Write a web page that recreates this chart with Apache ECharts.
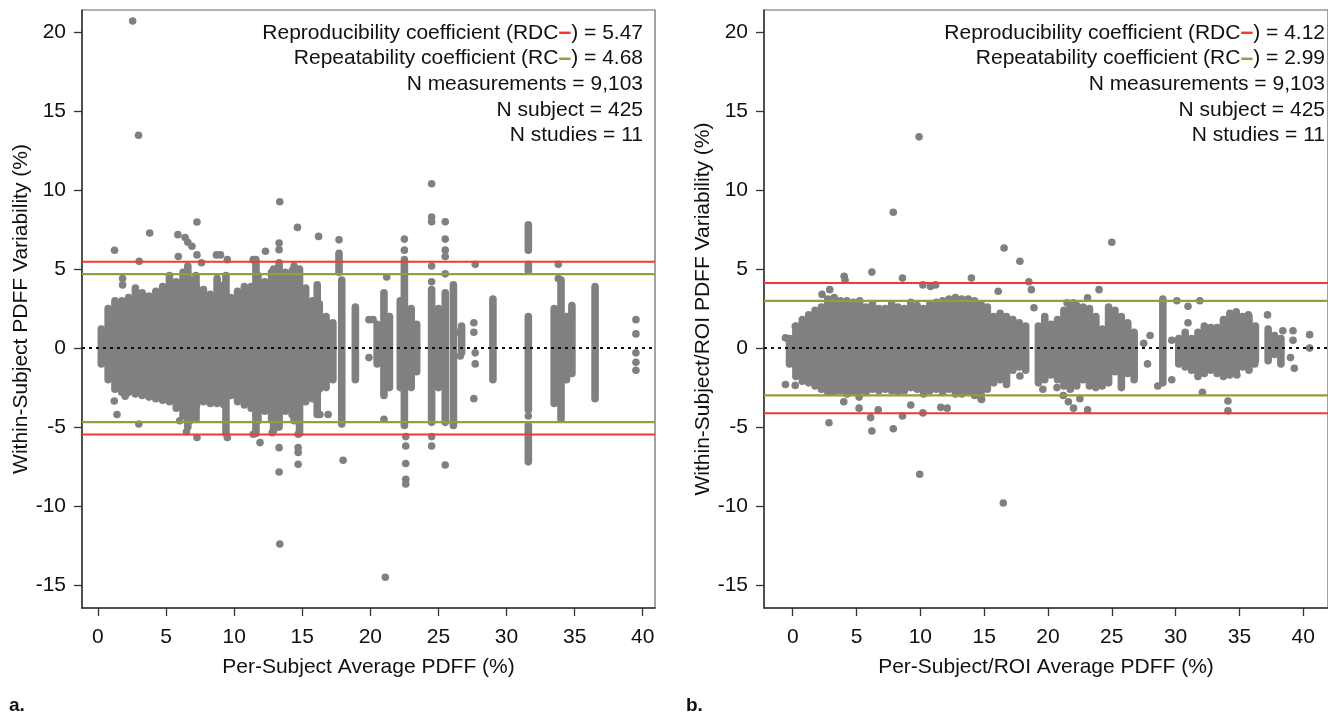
<!DOCTYPE html>
<html><head><meta charset="utf-8">
<script src="https://cdn.jsdelivr.net/npm/echarts@6/dist/echarts.min.js"></script>
<style>html,body{margin:0;padding:0;background:#fff}#c{width:1328px;height:715px}</style>
</head><body><div id="c"></div>
<script>
// ---------- tick labels ----------
const xTicks = [0, 5, 10, 15, 20, 25, 30, 35, 40];
const yTicks = [-15, -10, -5, 0, 5, 10, 15, 20];

// ---------- coefficients & counts ----------
const statsA = { rdc: '5.47', rc: '4.68', nMeas: '9,103', nSubj: '425', nStud: '11' };
const statsB = { rdc: '4.12', rc: '2.99', nMeas: '9,103', nSubj: '425', nStud: '11' };
const limitsA = [5.47, 4.68];
const limitsB = [4.12, 2.99];

// ---------- panel a : dense point columns (x, low y, high y) ----------
const aColX  = [0.25,0.75,1.25,1.75,2.25,2.75,3.25,3.75,4.25,4.75,5.25,5.75,6.25,6.75,7.25,7.75,8.25,8.75,9.25,9.75,10.25,10.75,11.25,11.75,12.25,12.75,13.25,13.75,14.25,14.75,15.25,15.75,16.25,16.75,17.25,
                6.6,7.2,9.4,11.6,12.9,13.3,14.4,14.8,16.1,17.9,17.7,18.9,20.5,21.0,21.4,22.2,22.5,23.0,23.4,24.5,25.0,25.5,26.1,26.7,29.0,31.6,31.6,31.6,31.6,33.5,34.0,34.4,34.8,36.5];
const aColLo = [-1.0,-2.0,-2.6,-2.8,-2.8,-2.9,-3.0,-3.1,-3.2,-3.3,-3.4,-3.8,-4.3,-4.6,-3.6,-3.4,-3.5,-3.5,-3.6,-3.0,-3.4,-3.6,-3.8,-4.6,-4.0,-4.5,-4.7,-4.0,-4.2,-3.8,-3.4,-3.2,-2.6,-2.5,-2.0,
                -5.0,-4.5,-5.4,-5.4,-5.2,-5.0,-4.6,-5.4,-4.2,-4.8,4.8,-2.0,-1.0,-3.0,-2.5,-2.5,-4.9,-2.5,-1.5,-4.7,-2.5,-4.7,-4.9,-0.3,-2.0,-7.2,-3.9,4.9,6.2,-3.5,-4.5,-2.0,-1.6,-3.2];
const aColHi = [1.2,2.5,3.0,3.0,3.2,3.8,3.5,3.3,3.6,3.9,4.6,4.2,4.8,4.3,3.8,3.7,3.4,4.4,4.0,3.2,3.6,3.9,3.9,4.6,4.2,4.8,5.0,4.8,4.9,4.6,3.8,3.0,2.8,2.0,1.6,
                5.2,4.6,4.6,5.6,5.0,5.4,5.2,5.0,4.0,4.3,6.0,2.6,1.5,3.5,2.0,3.0,5.6,2.5,1.5,3.7,2.5,3.5,4.0,1.4,3.1,-4.9,2.0,5.3,7.8,2.5,4.3,2.0,2.7,3.9];

// ---------- panel a : individual points ----------
const aPtX = [2.55,2.98,13.35,7.27,3.8,5.87,6.4,14.65,16.2,17.7,1.22,3.03,1.81,1.81,6.9,6.6,7.27,5.9,8.7,9.0,9.5,7.6,11.4,12.3,13.3,13.3,
              24.5,24.5,24.5,25.5,25.5,25.5,25.5,25.5,24.5,24.5,22.5,22.5,27.7,33.8,21.2,19.9,19.9,20.2,27.6,27.6,27.7,27.7,27.6,39.5,39.5,39.5,39.5,39.5,26.5,26.6,
              1.4,1.2,3.0,2.0,6.0,6.5,7.27,9.5,11.4,11.9,12.8,13.3,13.3,14.7,14.7,14.7,14.7,18.0,16.3,16.9,13.35,21.1,21.0,22.6,22.6,22.6,22.6,22.6,24.5,24.5,25.5,31.6,33.8];
const aPtY = [20.7,13.47,9.26,7.98,7.29,7.18,7.0,7.64,7.07,6.86,6.19,5.49,4.4,4.0,6.45,6.7,5.9,5.8,5.9,5.9,5.6,5.4,5.6,6.13,6.65,6.23,
              10.4,8.3,8.0,8.0,6.9,6.2,5.8,4.7,5.2,4.2,6.9,6.2,5.3,5.3,4.5,1.8,-0.6,1.8,1.6,1.0,-0.3,-1.0,-3.2,1.8,0.9,-0.3,-0.9,-1.4,1.0,-0.5,
              -4.2,-3.35,-4.8,-3.05,-4.6,-5.3,-5.66,-5.66,-5.45,-5.98,-5.35,-6.3,-7.84,-6.3,-6.6,-7.35,-5.45,-7.1,-4.2,-4.2,-12.4,-14.5,-4.5,-5.6,-6.2,-7.3,-8.3,-8.6,-5.6,-6.2,-7.4,-4.3,4.4];

// ---------- panel b : dense point columns (x, low y, high y) ----------
const bColX  = [-0.25,0.25,0.75,1.25,1.75,2.25,2.75,3.25,3.75,4.25,4.75,5.25,5.75,6.25,6.75,7.25,7.75,8.25,8.75,9.25,9.75,10.25,10.75,11.25,11.75,12.25,12.75,13.25,13.75,14.25,14.75,15.25,15.75,16.25,16.75,17.25,17.75,18.25,
                19.25,19.75,20.25,20.75,21.25,21.75,22.25,22.75,23.25,23.75,24.25,24.75,25.25,25.75,26.25,26.75,29.0,
                30.25,30.75,31.25,31.75,32.25,32.75,33.25,33.75,34.25,34.75,35.25,35.75,36.25,37.25,37.75,38.25];
const bColLo = [-1.0,-1.8,-2.1,-2.2,-2.4,-2.6,-2.8,-2.8,-2.7,-2.9,-2.8,-2.7,-2.8,-2.6,-2.7,-2.6,-2.7,-2.8,-2.7,-2.5,-2.6,-2.9,-2.7,-2.6,-2.8,-2.6,-2.9,-2.9,-2.8,-3.0,-3.2,-2.6,-2.2,-2.0,-2.3,-1.4,-1.2,-1.4,
                -2.2,-2.0,-1.7,-2.0,-2.4,-2.6,-2.4,-2.0,-2.4,-2.5,-2.4,-2.2,-1.5,-2.5,-1.6,-2.0,-2.2,
                -1.0,-1.2,-1.4,-1.8,-1.6,-1.4,-1.6,-1.8,-1.7,-1.6,-1.2,-1.4,-0.8,-0.8,-0.4,-1.0];
const bColHi = [0.6,1.4,1.8,2.1,2.4,2.6,3.1,3.2,3.0,3.0,2.9,3.0,2.6,2.8,2.5,2.5,2.8,2.6,2.5,2.9,2.7,2.5,2.8,2.9,3.0,3.1,3.2,3.1,3.1,3.0,2.8,2.6,2.0,2.2,2.0,1.8,1.6,1.4,
                1.4,2.0,1.5,1.8,2.4,2.6,2.7,2.6,2.5,2.0,1.2,2.6,2.4,2.0,1.6,1.0,3.1,
                0.6,1.0,0.6,1.0,1.4,1.3,1.3,1.8,2.2,2.3,2.0,2.0,1.4,1.2,0.8,0.6];

// ---------- panel b : individual points ----------
const bPtX = [9.9,7.88,16.56,17.8,18.5,18.7,6.2,4.03,4.1,8.6,14.0,10.2,10.8,11.2,2.9,2.3,16.1,0.2,-0.57,-0.57,0.2,2.84,4.0,5.2,5.2,6.1,6.2,6.7,7.88,8.6,9.25,10.2,11.6,12.1,14.8,9.95,16.5,
              18.9,17.8,19.6,25.0,24.0,23.1,21.5,22.0,21.2,21.6,22.0,22.5,23.1,20.7,30.1,30.97,30.97,31.9,29.7,29.7,28.6,34.1,34.1,32.1,37.2,35.7,34.8,36.2,38.4,39.2,39.2,39.0,39.3,40.5,40.5,27.5,27.8,28.0];
const bPtY = [13.37,8.6,6.34,5.5,4.2,3.7,4.81,4.54,4.3,4.43,4.43,4.0,3.9,4.0,3.7,3.4,3.6,1.38,0.65,-2.3,-2.36,-4.72,-3.4,-3.1,-3.8,-4.4,-5.25,-3.9,-5.1,-4.3,-3.6,-4.1,-3.75,-3.8,-3.25,-7.98,-9.8,
              2.55,-1.77,-2.6,6.7,3.7,3.18,2.86,2.86,-3.0,-3.4,-3.8,-3.2,-3.9,-2.5,3.0,2.65,1.6,3.0,0.5,-2.0,-2.4,-3.35,-3.97,-2.8,2.1,2.1,-1.7,-1.0,1.1,1.1,0.5,-0.6,-1.28,0.85,0.0,0.3,-1.0,0.8];

// ---------- styling ----------
const GRAY = '#808080', RED = '#f03a32', OLIVE = '#9a9a3e', FONT = '"Liberation Sans", Arial, Helvetica, sans-serif';
const PT = 7.6, FS = 21;

function zip2(a, b) { return a.map((v, i) => [v, b[i]]); }
function zip3(a, b, c) { return a.map((v, i) => [v, b[i], c[i]]); }

function capsule(params, api) {
  const x = api.value(0), lo = api.value(1), hi = api.value(2);
  const p1 = api.coord([x, hi]), p2 = api.coord([x, lo]);
  return { type: 'rect',
           shape: { x: p1[0] - PT / 2, y: p1[1] - PT / 2, width: PT, height: (p2[1] - p1[1]) + PT, r: PT / 2 },
           style: { fill: GRAY } };
}
function hline(params, api) {
  const y = api.coord([0, api.value(0)])[1];
  const cs = params.coordSys;
  const kind = api.value(1);
  const style = kind === 0 ? { stroke: '#111', lineWidth: 2, lineDash: [3, 4] }
              : kind === 1 ? { stroke: RED, lineWidth: 2 } : { stroke: OLIVE, lineWidth: 2.2 };
  return { type: 'line', shape: { x1: cs.x, y1: y, x2: cs.x + cs.width, y2: y }, style: style };
}
function limitRows(lim) {
  return [[0, 0], [lim[0], 1], [-lim[0], 1], [lim[1], 2], [-lim[1], 2]];
}

const grids = [
  { left: 82, top: 10, width: 573, height: 598, xmin: -1.17, xmax: 40.9, xname: 'Per-Subject Average PDFF (%)', yname: 'Within-Subject PDFF Variability (%)' },
  { left: 764, top: 10, width: 570, height: 598, xmin: -2.25, xmax: 41.94, xname: 'Per-Subject/ROI Average PDFF (%)', yname: 'Within-Subject/ROI PDFF Variability (%)' }
];

const option = {
  animation: false,
  backgroundColor: '#fff',
  grid: grids.map(g => ({ left: g.left, top: g.top, width: g.width, height: g.height, show: true, borderColor: '#666', borderWidth: 1.2, containLabel: false })),
  xAxis: grids.map((g, i) => ({
    gridIndex: i, type: 'value', min: g.xmin, max: g.xmax,
    name: g.xname, nameLocation: 'middle', nameGap: 49,
    nameTextStyle: { fontFamily: FONT, fontSize: FS, color: '#111' },
    axisLine: { show: true, onZero: false, lineStyle: { color: '#333', width: 1.5 } },
    axisTick: { show: true, length: 8, inside: false, customValues: xTicks, lineStyle: { color: '#333', width: 1.3 } },
    axisLabel: { customValues: xTicks, margin: 19, fontFamily: FONT, fontSize: FS, color: '#111' },
    splitLine: { show: false }
  })),
  yAxis: grids.map((g, i) => ({
    gridIndex: i, type: 'value', min: -16.45, max: 21.4,
    name: g.yname, nameLocation: 'middle', nameGap: 50, nameRotate: 90,
    nameTextStyle: { fontFamily: FONT, fontSize: FS, color: '#111' },
    axisLine: { show: true, onZero: false, lineStyle: { color: '#333', width: 1.5 } },
    axisTick: { show: true, length: 8, inside: false, customValues: yTicks, lineStyle: { color: '#333', width: 1.3 } },
    axisLabel: { customValues: yTicks, margin: 16, fontFamily: FONT, fontSize: FS, color: '#111' },
    splitLine: { show: false }
  })),
  series: [
    { type: 'custom', xAxisIndex: 0, yAxisIndex: 0, renderItem: capsule, data: zip3(aColX, aColLo, aColHi), encode: { x: 0, y: [1, 2] }, z: 2, silent: true },
    { type: 'scatter', xAxisIndex: 0, yAxisIndex: 0, data: zip2(aPtX, aPtY), symbolSize: PT, itemStyle: { color: GRAY, opacity: 1 }, z: 3, silent: true },
    { type: 'custom', xAxisIndex: 0, yAxisIndex: 0, renderItem: hline, data: limitRows(limitsA), encode: { y: 0 }, z: 10, silent: true },
    { type: 'custom', xAxisIndex: 1, yAxisIndex: 1, renderItem: capsule, data: zip3(bColX, bColLo, bColHi), encode: { x: 0, y: [1, 2] }, z: 2, silent: true },
    { type: 'scatter', xAxisIndex: 1, yAxisIndex: 1, data: zip2(bPtX, bPtY), symbolSize: PT, itemStyle: { color: GRAY, opacity: 1 }, z: 3, silent: true },
    { type: 'custom', xAxisIndex: 1, yAxisIndex: 1, renderItem: hline, data: limitRows(limitsB), encode: { y: 0 }, z: 10, silent: true }
  ],
  graphic: []
};

function statTexts(s, xr) {
  const rich = {
    t: { fontFamily: FONT, fontSize: FS, fill: '#111' },
    r: { fontFamily: FONT, fontSize: FS + 2, fontWeight: 'bold', fill: RED },
    o: { fontFamily: FONT, fontSize: FS + 2, fontWeight: 'bold', fill: OLIVE }
  };
  const lines = [
    '{t|Reproducibility coefficient (RDC}{r|–}{t|) = ' + s.rdc + '}',
    '{t|Repeatability coefficient (RC}{o|–}{t|) = ' + s.rc + '}',
    '{t|N measurements = ' + s.nMeas + '}',
    '{t|N subject = ' + s.nSubj + '}',
    '{t|N studies = ' + s.nStud + '}'
  ];
  return lines.map((tx, i) => ({
    type: 'text', x: xr, y: 33 + i * 25.6, z: 20,
    style: { text: tx, rich: rich, align: 'right', verticalAlign: 'middle' }
  }));
}
option.graphic = [].concat(
  statTexts(statsA, 643),
  statTexts(statsB, 1325),
  [
    { type: 'text', x: 9, y: 706, style: { text: 'a.', font: 'bold 19px "Liberation Sans Narrow", "Liberation Sans", Arial', fill: '#111', verticalAlign: 'middle' } },
    { type: 'text', x: 686, y: 706, style: { text: 'b.', font: 'bold 19px "Liberation Sans Narrow", "Liberation Sans", Arial', fill: '#111', verticalAlign: 'middle' } }
  ]
);

const chart = echarts.init(document.getElementById('c'), null, { renderer: 'canvas', width: 1328, height: 715 });
chart.setOption(option);
</script>
</body></html>
